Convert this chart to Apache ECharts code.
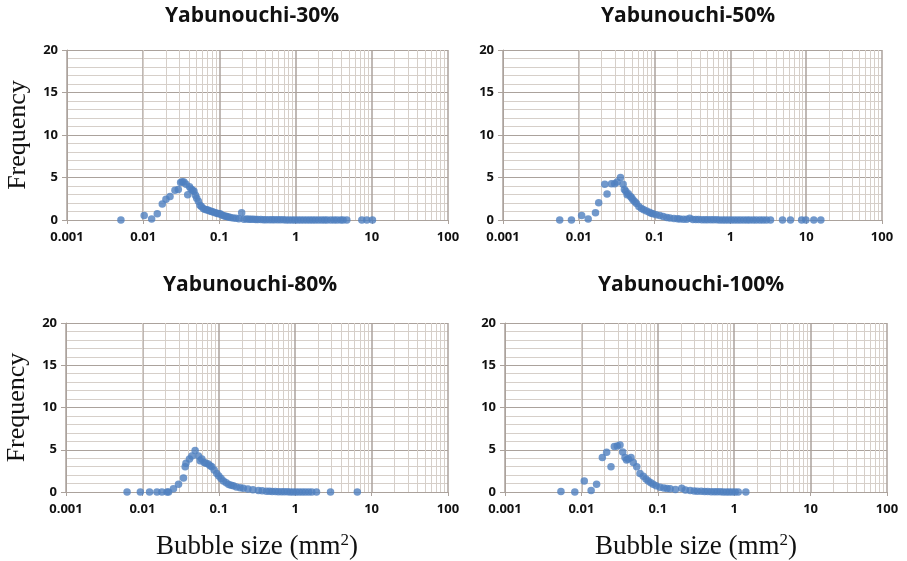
<!DOCTYPE html>
<html>
<head>
<meta charset="UTF-8">
<title>Yabunouchi bubble size</title>
<script src="https://cdn.jsdelivr.net/npm/echarts@6/dist/echarts.min.js"></script>
<style>
  body { margin: 0; padding: 0; background: #fff; }
  #chart { width: 907px; height: 561px; }
</style>
</head>
<body>
<div id="chart"></div>
<script>
// [bubble size mm2, frequency]
var p30 = [[0.0051,0],[0.0103,0.53],[0.0129,0.12],[0.0153,0.73],[0.0178,1.87],[0.0199,2.44],[0.0225,2.76],
  [0.0261,3.5],[0.0289,3.58],[0.031,4.4],[0.0325,4.5],[0.0343,4.47],[0.0365,4.2],[0.0384,2.97],[0.0405,3.9],
  [0.0424,3.66],[0.0445,3.5],[0.0464,3.37],[0.0485,2.9],[0.0504,2.56],[0.053,2.2],[0.0556,1.75],[0.058,1.6],
  [0.0615,1.34],[0.065,1.25],[0.0683,1.2],[0.0715,1.14],[0.075,1.05],[0.079,1.0],[0.083,0.93],[0.088,0.85],
  [0.093,0.8],[0.097,0.75],[0.102,0.73],[0.108,0.6],[0.114,0.5],[0.12,0.45],[0.125,0.4],[0.132,0.35],
  [0.14,0.3],[0.152,0.24],[0.165,0.2],[0.18,0.15],[0.196,0.85],[0.21,0.1],[0.228,0.12],[0.245,0.1],
  [0.26,0.08],[0.28,0.08],[0.3,0.06],[0.32,0.05],[0.35,0.05],[0.38,0.04],[0.41,0.04],[0.45,0.03],[0.49,0.03],
  [0.53,0.02],[0.58,0.02],[0.63,0.02],[0.69,0.02],[0.75,0.01],[0.82,0.01],[0.9,0.01],[0.98,0.01],[1.07,0],
  [1.17,0],[1.28,0],[1.4,0],[1.53,0],[1.67,0],[1.82,0],[2.0,0],[2.2,0],[2.4,0],[2.6,0],[2.9,0],[3.2,0],
  [3.5,0],[3.9,0],[4.2,0],[4.7,0],[7.4,0],[8.6,0],[10.2,0]];

var p50 = [[0.0056,0],[0.008,0],[0.0109,0.53],[0.0133,0.12],[0.0166,0.85],[0.0183,2.03],[0.022,4.2],
  [0.0236,3.05],[0.027,4.27],[0.0298,4.27],[0.032,4.47],[0.0355,5.0],[0.0384,4.2],[0.04,3.6],[0.0417,3.37],
  [0.0434,2.97],[0.045,3.1],[0.0481,2.76],[0.05,2.6],[0.052,2.36],[0.055,2.15],[0.0577,1.95],[0.062,1.6],
  [0.0671,1.34],[0.072,1.2],[0.0782,1.06],[0.085,0.9],[0.09,0.8],[0.0955,0.73],[0.105,0.62],[0.117,0.53],
  [0.13,0.4],[0.145,0.3],[0.159,0.24],[0.18,0.18],[0.2,0.14],[0.215,0.12],[0.24,0.1],[0.265,0.1],
  [0.291,0.2],[0.32,0.06],[0.35,0.05],[0.38,0.05],[0.42,0.04],[0.46,0.03],[0.5,0.03],[0.55,0.02],
  [0.6,0.02],[0.66,0.02],[0.72,0.01],[0.79,0.01],[0.86,0.01],[0.94,0],[1.03,0],[1.13,0],[1.24,0],[1.36,0],
  [1.5,0],[1.65,0],[1.8,0],[2.0,0],[2.2,0],[2.45,0],[2.7,0],[2.99,0],[3.38,0],[4.87,0],[6.2,0],[8.7,0],
  [9.9,0],[12.6,0],[15.6,0]];

var p80 = [[0.0063,0],[0.0094,0],[0.0124,0],[0.0155,0],[0.018,0],[0.021,0],[0.022,0],[0.0255,0.37],
  [0.0297,0.93],[0.0345,1.67],[0.0363,3.0],[0.0372,3.4],[0.0413,3.9],[0.0444,4.26],[0.049,4.9],[0.0542,4.26],
  [0.057,3.7],[0.06,3.9],[0.0643,3.5],[0.068,3.4],[0.073,3.3],[0.077,3.1],[0.081,3.0],[0.087,2.6],
  [0.094,2.2],[0.1,1.9],[0.107,1.6],[0.115,1.3],[0.125,1.1],[0.135,0.9],[0.145,0.8],[0.155,0.74],
  [0.17,0.6],[0.19,0.5],[0.209,0.44],[0.24,0.35],[0.28,0.26],[0.33,0.18],[0.37,0.14],[0.42,0.1],
  [0.46,0.08],[0.5,0.06],[0.55,0.05],[0.6,0.04],[0.66,0.03],[0.72,0.02],[0.79,0.02],[0.86,0.01],
  [0.94,0.01],[1.03,0],[1.13,0],[1.24,0],[1.36,0],[1.5,0],[1.65,0],[1.9,0],[2.9,0],[6.5,0]];

var p100 = [[0.0054,0.07],[0.0082,0],[0.0109,1.3],[0.0134,0.19],[0.0158,0.93],[0.0188,4.07],[0.0214,4.7],
  [0.0244,3.0],[0.027,5.37],[0.0295,5.44],[0.032,5.55],[0.0347,4.74],[0.0372,4.07],[0.039,3.8],
  [0.0411,3.9],[0.0446,4.07],[0.0478,3.5],[0.053,3.0],[0.0585,2.2],[0.0646,1.85],[0.07,1.55],[0.075,1.3],
  [0.081,1.1],[0.087,0.93],[0.095,0.75],[0.107,0.56],[0.12,0.48],[0.132,0.42],[0.145,0.37],[0.17,0.3],
  [0.206,0.44],[0.23,0.25],[0.265,0.19],[0.3,0.12],[0.33,0.1],[0.37,0.08],[0.41,0.06],[0.45,0.05],
  [0.5,0.04],[0.55,0.03],[0.6,0.02],[0.66,0.02],[0.72,0.01],[0.79,0.01],[0.86,0],[0.94,0],[1.03,0],
  [1.13,0],[1.42,0]];

var titles = ['Yabunouchi-30%', 'Yabunouchi-50%', 'Yabunouchi-80%', 'Yabunouchi-100%'];
var panels = [p30, p50, p80, p100];
var xTicks = [0.001, 0.01, 0.1, 1, 10, 100];

var grids = [
  {left: 67, top: 50, width: 381, height: 170},
  {left: 503, top: 50, width: 379, height: 170},
  {left: 66, top: 323, width: 382, height: 169},
  {left: 505, top: 323, width: 382, height: 169}
];
var titlePos = [[252, 6], [688, 6], [250, 275], [691, 275]];

// minor log gridlines 2..9 within each decade
var minorX = [];
for (var d = 0; d < xTicks.length - 1; d++) {
  for (var k = 2; k <= 9; k++) minorX.push({xAxis: +(xTicks[d] * k).toPrecision(3)});
}

var gridMajor = '#aba29c';
var gridMinor = '#d6cfc9';
var sans = '"Open Sans", Lato, sans-serif';
var serif = '"Liberation Serif", "DejaVu Serif", serif';

var option = {
  backgroundColor: '#ffffff',
  animation: false,
  title: titles.map(function (t, i) {
    return {
      text: t, left: titlePos[i][0], top: titlePos[i][1], textAlign: 'center', padding: 0,
      textStyle: {fontFamily: sans, fontWeight: 'bold', fontSize: 21, color: '#111'}
    };
  }),
  grid: grids,
  xAxis: grids.map(function (g, i) {
    return {
      type: 'log', logBase: 10, min: 0.001, max: 100, gridIndex: i,
      name: i >= 2 ? '{n|Bubble size (mm}{s|2}{n|)}' : '',
      nameLocation: 'middle', nameGap: 40,
      nameTextStyle: {
        rich: {
          n: {fontFamily: serif, fontSize: 27, color: '#111'},
          s: {fontFamily: serif, fontSize: 17, color: '#111', verticalAlign: 'top', padding: [0, 0, 12, 0]}
        }
      },
      axisLine: {show: true, lineStyle: {color: gridMajor, width: 1}},
      axisTick: {show: true, length: 4, lineStyle: {color: gridMajor}},
      axisLabel: {
        margin: 11, fontFamily: sans, fontWeight: 'bold', fontSize: 13, color: '#111',
        formatter: function (v) { return String(+v.toPrecision(3)); }
      },
      splitLine: {show: true, lineStyle: {color: gridMajor, width: 1.5}}
    };
  }),
  yAxis: grids.map(function (g, i) {
    return {
      type: 'value', min: 0, max: 20, interval: 5, gridIndex: i,
      name: i % 2 === 0 ? 'Frequency' : '',
      nameLocation: 'middle', nameGap: 36,
      nameTextStyle: {fontFamily: serif, fontSize: 26, color: '#111'},
      axisLine: {show: true, lineStyle: {color: gridMajor, width: 1}},
      axisTick: {show: true, length: 5, lineStyle: {color: gridMajor}},
      axisLabel: {margin: 9, fontFamily: sans, fontWeight: 'bold', fontSize: 13, color: '#111'},
      splitLine: {show: true, lineStyle: {color: gridMajor, width: 1}},
      minorTick: {show: false, splitNumber: 5},
      minorSplitLine: {show: true, lineStyle: {color: gridMinor, width: 1}}
    };
  }),
  series: []
};

panels.forEach(function (data, i) {
  option.series.push({
    type: 'line', xAxisIndex: i, yAxisIndex: i, data: [], z: 1, silent: true,
    markLine: {
      silent: true, symbol: 'none', animation: false,
      label: {show: false},
      lineStyle: {color: gridMinor, width: 1, type: 'solid'},
      emphasis: {disabled: true},
      data: minorX
    }
  });
  option.series.push({
    type: 'scatter', xAxisIndex: i, yAxisIndex: i, z: 5,
    symbolSize: 7.5,
    itemStyle: {color: '#4f7fbf'},
    data: data
  });
});

var chart = echarts.init(document.getElementById('chart'));
chart.setOption(option);
</script>
</body>
</html>
